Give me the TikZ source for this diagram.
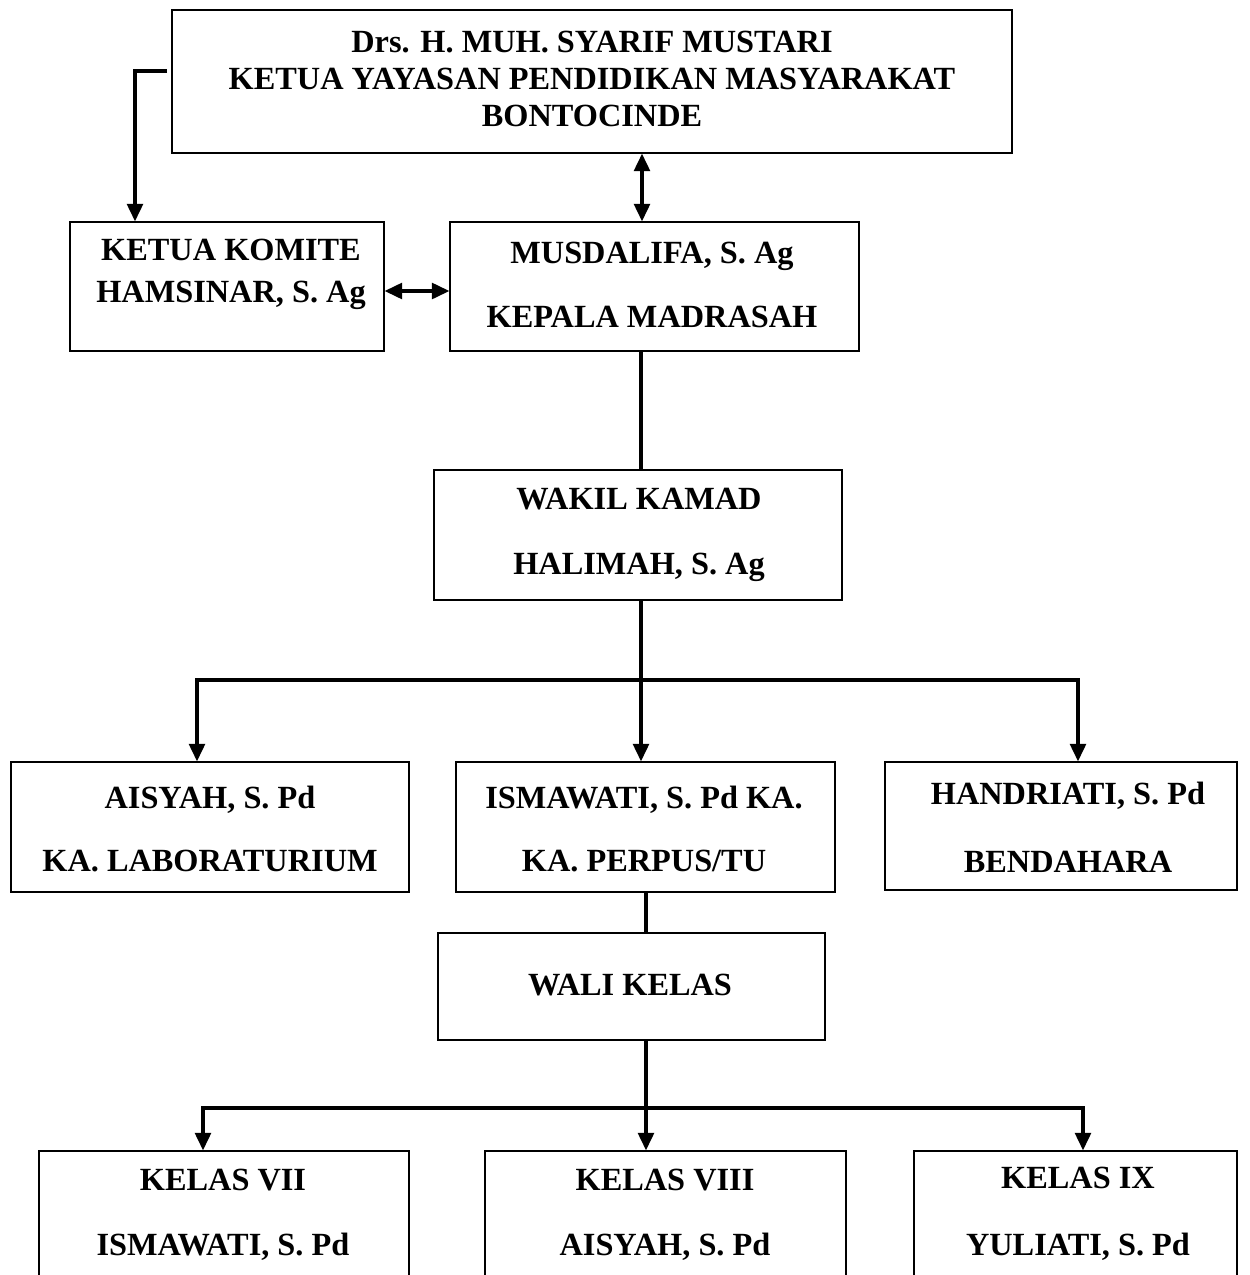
\documentclass[tikz,border=0pt]{standalone}
\usepackage{fontspec}
\setmainfont{Liberation Serif}
\usetikzlibrary{positioning, arrows.meta}

\begin{document}
\begin{tikzpicture}[x=0.02cm, y=-0.02cm,
    box/.style={draw, line width=0.7pt, inner sep=0pt},
    txt/.style={font=\fontsize{18.4}{21}\selectfont\bfseries, align=center, inner sep=0pt},
    conn/.style={line width=1.9pt},
    arr/.style={conn, -{Triangle[length=10pt, width=9pt]}},
    darr/.style={conn, {Triangle[length=10pt, width=9pt]}-{Triangle[length=10pt, width=9pt]}}]
          \useasboundingbox (0,0) rectangle (1249,1275);
          \clip (0,0) rectangle (1249,1275);

          % boxes
          \node (top) [box, minimum width=16.8cm, minimum height=2.86cm] at (592,81.5) {};
          \node (komite) [box, minimum width=6.28cm, minimum height=2.58cm] at (227,286.5) {};
          \node (kamad) [box, minimum width=8.18cm, minimum height=2.58cm] at (654.5,286.5) {};
          \node (wakil) [box, minimum width=8.16cm, minimum height=2.6cm] at (638,535) {};
          \node (lab) [box, minimum width=7.96cm, minimum height=2.6cm] at (210,827) {};
          \node (perpus) [box, minimum width=7.58cm, minimum height=2.6cm] at (645.5,827) {};
          \node (bendahara) [box, minimum width=7.04cm, minimum height=2.56cm] at (1061,826) {};
          \node (walikelas) [box, minimum width=7.74cm, minimum height=2.14cm] at (631.5,986.5) {};
          \node (kelas7) [box, minimum width=7.4cm, minimum height=3.38cm] at (224,1235.5) {};
          \node (kelas8) [box, minimum width=7.22cm, minimum height=3.38cm] at (665.5,1235.5) {};
          \node (kelas9) [box, minimum width=6.46cm, minimum height=3.38cm] at (1075.5,1235.5) {};

          % texts
          \node (top-t) [txt] at (592,79) {Drs. H. MUH. SYARIF MUSTARI\\KETUA YAYASAN PENDIDIKAN MASYARAKAT\\BONTOCINDE};
          \node (komite-t) [txt] at (231,274) {KETUA KOMITE\\[2.8pt]HAMSINAR, S. Ag};
          \node (kamad-t) [txt] at (652,285) {MUSDALIFA, S. Ag\\[15.9pt]KEPALA MADRASAH};
          \node (wakil-t) [txt] at (639,535) {WAKIL KAMAD\\[15.9pt]HALIMAH, S. Ag};
          \node (lab-t) [txt] at (210,829) {AISYAH, S. Pd\\[14.7pt]KA. LABORATURIUM};
          \node (perpus-t) [txt] at (644,829) {ISMAWATI, S. Pd KA.\\[14.7pt]KA. PERPUS/TU};
          \node (bendahara-t) [txt] at (1068,827) {HANDRIATI, S. Pd\\[17.6pt]BENDAHARA};
          \node (walikelas-t) [txt] at (630,985) {WALI KELAS};
          \node (kelas7-t) [txt] at (223,1215) {KELAS VII\\[15.9pt]ISMAWATI, S. Pd};
          \node (kelas8-t) [txt] at (665,1215) {KELAS VIII\\[15.9pt]AISYAH, S. Pd};
          \node (kelas9-t) [txt] at (1078,1214) {KELAS IX\\[17pt]YULIATI, S. Pd};

          % connectors
          \coordinate (yl) at (167,71);
          \coordinate (yk) at (135,71);
          \coordinate (ax) at (642,0);
          \coordinate (ay) at (0,291);
          \coordinate (b1) at (641,680);
          \coordinate (b1l) at (197,680);
          \coordinate (b1r) at (1078,680);
          \coordinate (b2) at (646,1108);
          \coordinate (b2l) at (203,1108);
          \coordinate (b2r) at (1083,1108);

          \draw[arr] (yl) -- (yk) -- (yk |- komite.north);
          \draw[darr] (top.south -| ax) -- (kamad.north -| ax);
          \draw[darr] (komite.east |- ay) -- (kamad.west |- ay);
          \draw[conn] (kamad.south -| b1) -- (wakil.north -| b1);

          \draw[arr] (wakil.south -| b1) -- (b1 |- perpus.north);
          \draw[arr] (b1) -- (b1l) -- (b1l |- lab.north);
          \draw[arr] (b1) -- (b1r) -- (b1r |- bendahara.north);

          \draw[conn] (perpus.south -| b2) -- (walikelas.north -| b2);
          \draw[arr] (walikelas.south -| b2) -- (b2 |- kelas8.north);
          \draw[arr] (b2) -- (b2l) -- (b2l |- kelas7.north);
          \draw[arr] (b2) -- (b2r) -- (b2r |- kelas9.north);
        \end{tikzpicture}
\end{document}
